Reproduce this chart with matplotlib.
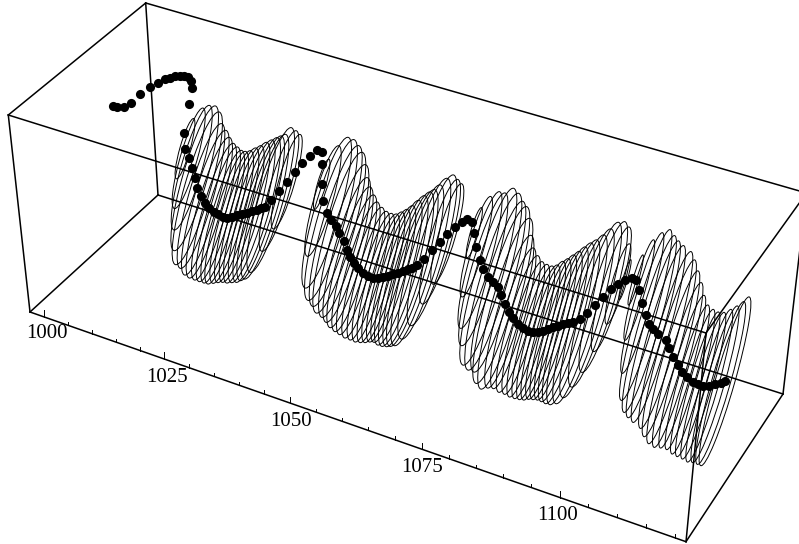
# -*- coding: utf-8 -*-
# tube plot, everything in image coordinates
import numpy as np
import matplotlib
matplotlib.use("Agg")
import matplotlib.pyplot as plt
from matplotlib.patches import Ellipse

# box corners (front/back, bottom/top)
fbl = (30, 312)
fbr = (686, 541.7)
bbl = (158, 195)
bbr = (783, 394)
ftl = (8.3, 115)
ftr = (706, 333)
btl = (145.7, 3)
btr = (806.5, 193)
edges = [(ftl, ftr), (ftl, fbl), (fbl, fbr), (fbr, ftr), (fbr, bbr), (bbr, bbl),
         (bbl, fbl), (bbl, btl), (btl, btr), (bbr, btr), (ftr, btr), (ftl, btl)]

# x axis ticks
tick_vals = [1000, 1005, 1010, 1015, 1020, 1025, 1030, 1035, 1040, 1045, 1050, 1055, 1060,
             1065, 1070, 1075, 1080, 1085, 1090, 1095, 1100, 1105, 1110, 1115, 1120]
tick_px = [44, 67.7, 91.7, 115.7, 140, 164, 189, 214, 239, 264, 290, 315.7, 341.7,
           368.3, 395, 421.7, 449, 476, 503.3, 531, 560, 588.3, 616.7, 645.7, 675]
label_vals = [1000, 1025, 1050, 1075, 1100]
label_x = [46.7, 166.7, 290.8, 421.7, 557.5]
label_y = [334, 377.5, 421.7, 467.3, 515]

# dots
dot_x = [113.3, 117.3, 124, 131, 140, 149.7, 158, 165, 170, 175, 180, 184, 188.3, 190.7, 192.3, 189,
         184, 185, 188.7, 191.7, 194.7, 197.3, 201, 205.3, 209.3, 214, 218.3, 222.7, 226.7, 231.7,
         236.7, 241.7, 246.7, 251.7, 256.7, 260.7, 265, 270.7, 279, 286.7, 294.7, 302.3, 310, 316.7,
         322.3, 322.3, 321.7, 323, 326.7, 331, 335.7, 339.3, 343.7, 346.7, 350, 354.3, 358.3, 363.3,
         368.3, 373.3, 378.3, 383.3, 388.3, 393.3, 398.3, 403.3, 408.3, 412.3, 417.3, 424.3, 432, 440,
         447.3, 455, 461.7, 467, 471.7, 474.3, 476.3, 480, 483.3, 488.3, 493.3, 498.3, 501.3, 505.3,
         509.3, 513.3, 518.3, 523.3, 528.3, 533.3, 538.3, 543.3, 548.3, 553.3, 558.3, 563.3, 568.3,
         573.3, 580, 587, 595, 603.3, 611.3, 618, 625, 631.7, 635.7, 639.3, 642.3, 645.7, 649.3,
         653.3, 658.3, 665.7, 669.3, 673.3, 677.7, 682.3, 687.3, 692.7, 697.7, 703.3, 709.3, 715,
         720.7, 725]
dot_y = [105.7, 106.7, 107.3, 103.3, 94.3, 87.3, 82.7, 79.3, 77.7, 76.3, 75.7, 75.7, 77.3, 80.7, 88, 104,
         133.3, 148.7, 158.3, 167.7, 178.3, 188.3, 196, 202.7, 207.7, 211.7, 214.3, 216.7, 217.7, 217,
         215.3, 214, 212.7, 211.3, 210, 208.3, 206.7, 200, 191, 181.7, 172, 163.3, 155.7, 150.3,
         152, 164.3, 184.3, 201, 212.7, 220, 226, 232.7, 241, 250, 257.3, 263.3, 268.3, 272.7,
         275.7, 277.7, 278.3, 277.3, 275.7, 274, 272.7, 271, 269.3, 268, 265.3, 258.7, 250.3, 241.7,
         234, 227.3, 221.7, 219, 221.7, 232.7, 246.7, 260, 269.3, 276.7, 281.7, 286.7, 295, 303.7,
         311.7, 318.3, 324, 328, 330.7, 332.3, 332.3, 330.7, 329, 327.3, 325.7, 324.3, 323.3,
         322.3, 319.3, 313.3, 304.7, 297, 289.3, 284, 279.7, 278.3, 280, 290, 303, 315, 324,
         329.3, 334, 340, 348.3, 357.3, 365, 371.7, 377.3, 381.7, 384.3, 385.7, 385.7, 384.3,
         383, 381.3]

# ring size at each dot, 0 = no ring
ring_r = [0, 0, 0, 0, 0, 0, 0, 0, 0, 0, 0, 0, 0, 0, 0, 0,
          0, 30, 50, 62, 72, 76, 72, 72, 70, 68, 67, 66, 66, 66,
          67, 68, 70, 71, 72, 72, 72, 72, 60, 47, 0, 0, 0, 0,
          0, 0, 25, 55, 75, 80, 80, 80, 76, 72, 70, 68, 66, 65,
          64, 64, 64, 65, 66, 68, 72, 75, 77, 78, 80, 80, 75, 62,
          50, 0, 0, 0, 0, 25, 50, 68, 76, 88, 88, 85, 88, 85,
          76, 70, 68, 66, 66, 66, 67, 69, 70, 72, 74, 77, 80,
          82, 84, 84, 82, 75, 62, 40, 20, 0, 25, 50, 70, 85, 88,
          88, 88, 88, 88, 86, 82, 76, 72, 72, 72, 73, 76, 78,
          81, 84]

plt.rcParams['font.family'] = ['Liberation Serif', 'DejaVu Serif']

fig = plt.figure(figsize=(7.99, 5.44), dpi=100)
ax = fig.add_axes([0, 0, 1, 1])
ax.set_xlim(0, 799)
ax.set_ylim(544, 0)
ax.axis('off')

for a, b in edges:
    ax.plot([a[0], b[0]], [a[1], b[1]], color='black', lw=1.1, solid_capstyle='projecting')

# ticks stand straight up from the front bottom edge
tick_y = np.interp(tick_px, [fbl[0], fbr[0]], [fbl[1], fbr[1]])
for v, x, y in zip(tick_vals, tick_px, tick_y):
    ln = 6.5 if v % 25 == 0 else 3.5
    ax.plot([x, x], [y, y - ln], color='black', lw=0.7)
for v, x, y in zip(label_vals, label_x, label_y):
    ax.text(x, y, str(v), fontsize=15, ha='center', va='center', color='black')

for x, y, r in zip(dot_x, dot_y, ring_r):
    if r > 0:
        # rings look narrower towards the right end
        ratio = 0.34 if x < 460 else (0.31 if x < 625 else 0.23)
        ax.add_patch(Ellipse((x, y), width=ratio * r, height=2.09 * r, angle=16,
                             fill=False, ec='black', lw=0.7))

ax.plot(dot_x, dot_y, 'o', color='black', ms=6.6, mew=0, zorder=5)

fig.savefig("out.png", dpi=100)
